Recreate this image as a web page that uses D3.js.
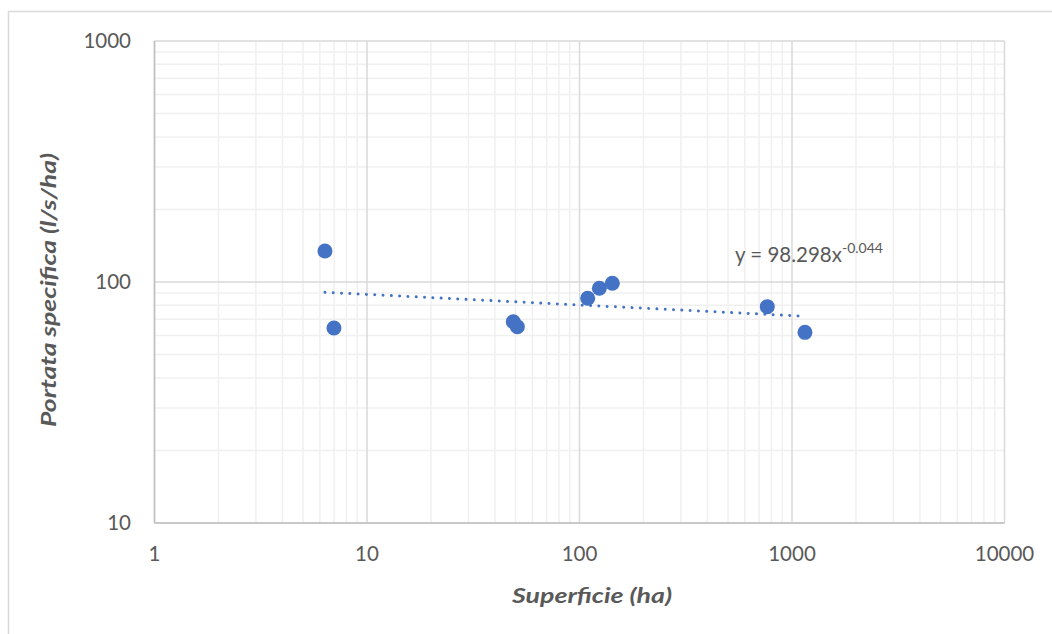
<!DOCTYPE html>
<html>
<head>
<meta charset="utf-8">
<script src="https://cdn.jsdelivr.net/npm/d3@7"></script>
<style>
  body { margin: 0; background: #fff; }
  svg text { font-family: Lato, "Open Sans", sans-serif; fill: #595959; }
</style>
</head>
<body>
<svg id="chart"></svg>
<script>
// superficie (ha) vs portata specifica (l/s/ha)
const superficie = [6.34, 6.99, 48.8, 51.0, 109.3, 124.0, 142.7, 765, 1151];
const portata = [134.5, 64.4, 68.4, 65.2, 85.6, 94.2, 98.8, 79.0, 61.8];
const xTicks = [1, 10, 100, 1000, 10000];
const yTicks = [10, 100, 1000];
const trendCoef = 98.298;
const trendExp = -0.044;
const trendStart = 6.34;
const trendEnd = 1080;

const W = 1052, H = 634;
const svg = d3.select("#chart").attr("width", W).attr("height", H);

// outer chart border
svg.append("rect")
    .attr("x", 8.5).attr("y", 11.5)
    .attr("width", W + 20).attr("height", H + 20)
    .attr("fill", "#fff")
    .attr("stroke", "#d9d9d9")
    .attr("stroke-width", 1.5);

let margin = {top: 41, left: 154.5, right: 1004.5, bottom: 523};

let x = d3.scaleLog().domain([1, 10000]).range([margin.left, margin.right]);
let y = d3.scaleLog().domain([10, 1000]).range([margin.bottom, margin.top]);

let g = svg.append("g");

// minor gridlines
let minorX = [], minorY = [];
for (let d = 1; d < 10000; d *= 10) for (let k = 2; k <= 9; k++) minorX.push(d * k);
for (let d = 10; d < 1000; d *= 10) for (let k = 2; k <= 9; k++) minorY.push(d * k);

g.selectAll(".minx").data(minorX).enter().append("line")
    .attr("x1", d => x(d)).attr("x2", d => x(d))
    .attr("y1", margin.top).attr("y2", margin.bottom)
    .attr("stroke", "#f0f0f0").attr("stroke-width", 1.5);
g.selectAll(".miny").data(minorY).enter().append("line")
    .attr("y1", d => y(d)).attr("y2", d => y(d))
    .attr("x1", margin.left).attr("x2", margin.right)
    .attr("stroke", "#f0f0f0").attr("stroke-width", 1.5);

// major gridlines
g.selectAll(".majx").data(xTicks).enter().append("line")
    .attr("x1", d => x(d)).attr("x2", d => x(d))
    .attr("y1", margin.top).attr("y2", margin.bottom)
    .attr("stroke", "#d9d9d9").attr("stroke-width", 1.5);
g.selectAll(".majy").data(yTicks).enter().append("line")
    .attr("y1", d => y(d)).attr("y2", d => y(d))
    .attr("x1", margin.left).attr("x2", margin.right)
    .attr("stroke", "#d9d9d9").attr("stroke-width", 1.5);

// axis lines
g.append("line").attr("x1", margin.left).attr("x2", margin.left)
    .attr("y1", margin.top).attr("y2", margin.bottom)
    .attr("stroke", "#bfbfbf").attr("stroke-width", 1.5);
g.append("line").attr("x1", margin.left).attr("x2", margin.right)
    .attr("y1", margin.bottom).attr("y2", margin.bottom)
    .attr("stroke", "#bfbfbf").attr("stroke-width", 1.5);

// tick labels
g.selectAll(".xl").data(xTicks).enter().append("text")
    .attr("x", d => x(d)).attr("y", 561)
    .attr("text-anchor", "middle")
    .style("font-size", "20.5px")
    .text(d => d);
g.selectAll(".yl").data(yTicks).enter().append("text")
    .attr("x", 131).attr("y", d => y(d))
    .attr("dy", "0.36em")
    .attr("text-anchor", "end")
    .style("font-size", "20.5px")
    .text(d => d);

// axis titles
svg.append("text")
    .attr("x", 592).attr("y", 603)
    .attr("text-anchor", "middle")
    .attr("textLength", 160).attr("lengthAdjust", "spacingAndGlyphs")
    .style("font-size", "21.5px").style("font-weight", "bold").style("font-style", "italic")
    .text("Superficie (ha)");
svg.append("text")
    .attr("transform", "translate(56,290) rotate(-90)")
    .attr("text-anchor", "middle")
    .attr("textLength", 274).attr("lengthAdjust", "spacingAndGlyphs")
    .style("font-size", "21.5px").style("font-weight", "bold").style("font-style", "italic")
    .text("Portata specifica (l/s/ha)");

// trendline (power)
let trend = d3.range(0, 41).map(i => {
    let lx = Math.log10(trendStart) + (Math.log10(trendEnd) - Math.log10(trendStart)) * i / 40;
    let xv = Math.pow(10, lx);
    return [xv, trendCoef * Math.pow(xv, trendExp)];
});
let line = d3.line().x(d => x(d[0])).y(d => y(d[1]));
g.append("path")
    .datum(trend)
    .attr("fill", "none")
    .attr("stroke", "#4472c4")
    .attr("stroke-width", 3)
    .attr("stroke-linecap", "round")
    .attr("stroke-dasharray", "0.01,8.3")
    .attr("d", line);

// points
g.selectAll(".dot").data(superficie).enter().append("circle")
    .attr("cx", d => x(d))
    .attr("cy", (d, i) => y(portata[i]))
    .attr("r", 7.5)
    .attr("fill", "#4472c4");

// equation label
let eq = svg.append("text").attr("x", 735).attr("y", 262).style("font-size", "20.5px");
eq.append("tspan").text("y = " + trendCoef + "x");
eq.append("tspan").attr("dy", -9).style("font-size", "14px").text(trendExp.toFixed(3));
</script>
</body>
</html>
